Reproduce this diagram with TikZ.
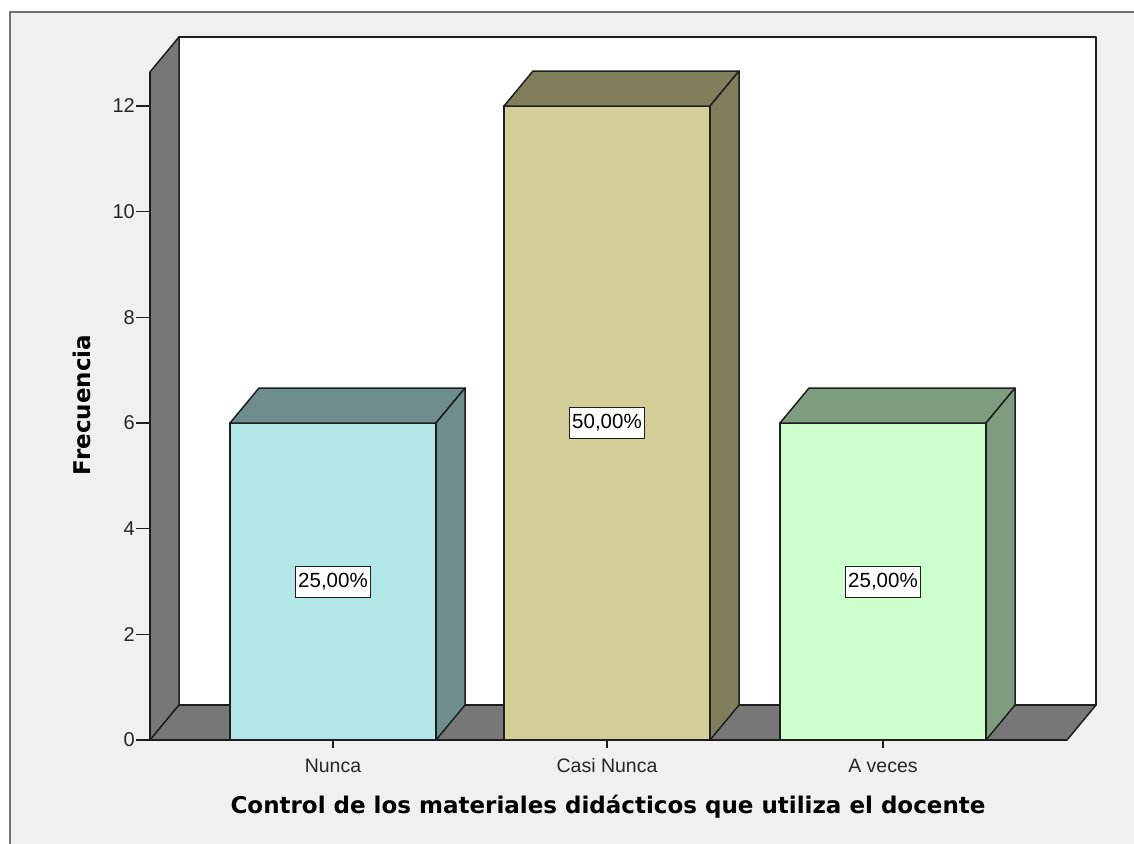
\documentclass[tikz,border=0pt]{standalone}
\usepackage{fontspec}
\setmainfont{Liberation Sans}
\newfontfamily\titlefont{DejaVu Sans}
\usetikzlibrary{calc}

\definecolor{framebg}{HTML}{F0F0F0}
\definecolor{wallgray}{HTML}{777777}
\definecolor{edge}{HTML}{1E1E1E}
\definecolor{nuncaf}{HTML}{B3E6E6}
\definecolor{nuncas}{HTML}{6E8E8E}
\definecolor{casif}{HTML}{D3CE97}
\definecolor{casis}{HTML}{817E5C}
\definecolor{vecesf}{HTML}{CCFFCC}
\definecolor{vecess}{HTML}{7E9D7E}

\begin{document}
\begin{tikzpicture}[x=1pt,y=-1pt]
    \def\dx{29}
    \def\dy{-35}

    \tikzstyle{face}=[draw=edge,line width=1.5pt,line join=round]
    \tikzstyle{front}=[face,inner sep=0pt,outer sep=0pt,minimum width=206pt]
    \tikzstyle{pct}=[draw=edge,fill=white,line width=1pt,inner sep=3pt,minimum height=31pt,font=\fontsize{20.5}{22}\selectfont]
    \tikzstyle{ytick}=[anchor=east,inner sep=1pt,font=\fontsize{20}{22}\selectfont,text=black!85]
    \tikzstyle{cat}=[inner sep=0pt,font=\fontsize{19.5}{21}\selectfont,text=black!85]
    \tikzstyle{tick}=[draw=edge,line width=1.5pt]
    \tikzstyle{title}=[font=\titlefont\bfseries\fontsize{23}{26}\selectfont]

    \useasboundingbox (0,0) rectangle (1134,843);
    \fill[white] (0,0) rectangle (1134,843);
    \draw[fill=framebg,draw=black!55,line width=1.5pt] (10,12) rectangle (1200,900);

    % walls and floor
    \coordinate (o) at (150,740);
    \coordinate (top) at (150,72);
    \coordinate (xend) at (1067,740);
    \filldraw[face,fill=white] ($(o)+(\dx,\dy)$) rectangle ($(xend)+(\dx,\dy)+(0,-668)$);
    \filldraw[face,fill=wallgray] (o) -- (top) -- ++(\dx,\dy) -- ($(o)+(\dx,\dy)$) -- cycle;
    \filldraw[face,fill=wallgray] (o) -- ($(o)+(\dx,\dy)$) -- ($(xend)+(\dx,\dy)$) -- (xend) -- cycle;

    % bars
    \node[front,fill=nuncaf,minimum height=317pt] (nunca) at (333,581.5) {};
    \filldraw[face,fill=nuncas] (nunca.north west) -- ++(\dx,\dy) -- ([shift={(\dx,\dy)}]nunca.north east) -- (nunca.north east) -- cycle;
    \filldraw[face,fill=nuncas] (nunca.north east) -- ++(\dx,\dy) -- ([shift={(\dx,\dy)}]nunca.south east) -- (nunca.south east) -- cycle;

    \node[front,fill=casif,minimum height=634pt] (casi) at (607,423) {};
    \filldraw[face,fill=casis] (casi.north west) -- ++(\dx,\dy) -- ([shift={(\dx,\dy)}]casi.north east) -- (casi.north east) -- cycle;
    \filldraw[face,fill=casis] (casi.north east) -- ++(\dx,\dy) -- ([shift={(\dx,\dy)}]casi.south east) -- (casi.south east) -- cycle;

    \node[front,fill=vecesf,minimum height=317pt] (veces) at (883,581.5) {};
    \filldraw[face,fill=vecess] (veces.north west) -- ++(\dx,\dy) -- ([shift={(\dx,\dy)}]veces.north east) -- (veces.north east) -- cycle;
    \filldraw[face,fill=vecess] (veces.north east) -- ++(\dx,\dy) -- ([shift={(\dx,\dy)}]veces.south east) -- (veces.south east) -- cycle;

    \node[pct] (pnunca) at (nunca.center) {25,00\%};
    \node[pct] (pcasi) at (casi.center) {50,00\%};
    \node[pct] (pveces) at (veces.center) {25,00\%};

    % axes
    \draw[tick] (top) -- (o) -- (xend);

    \node[ytick] (y0) at (136,740) {0};
    \node[ytick] (y2) at (136,634.3) {2};
    \node[ytick] (y4) at (136,528.7) {4};
    \node[ytick] (y6) at (136,423) {6};
    \node[ytick] (y8) at (136,317.3) {8};
    \node[ytick] (y10) at (136,211.7) {10};
    \node[ytick] (y12) at (136,106) {12};
    \draw[tick] (y0.east) -- ++(13,0);
    \draw[tick] (y2.east) -- ++(13,0);
    \draw[tick] (y4.east) -- ++(13,0);
    \draw[tick] (y6.east) -- ++(13,0);
    \draw[tick] (y8.east) -- ++(13,0);
    \draw[tick] (y10.east) -- ++(13,0);
    \draw[tick] (y12.east) -- ++(13,0);

    \node[cat] (lnunca) at (333,766) {Nunca};
    \node[cat] (lcasi) at (607,766) {Casi Nunca};
    \node[cat] (lveces) at (883,766) {A veces};
    \draw[tick] (nunca.south) -- ++(0,8);
    \draw[tick] (casi.south) -- ++(0,8);
    \draw[tick] (veces.south) -- ++(0,8);

    \node[title] (xtitle) at (608,807) {Control de los materiales didácticos que utiliza el docente};
    \node[title,rotate=90] (ytitle) at (82,405) {Frecuencia};
\end{tikzpicture}
\end{document}
